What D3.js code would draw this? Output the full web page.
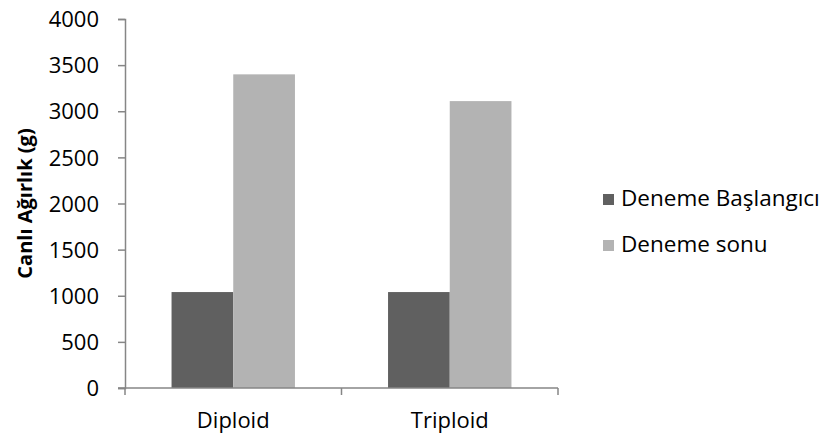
<!DOCTYPE html>
<html>
<head>
<meta charset="utf-8">
<script src="https://cdn.jsdelivr.net/npm/d3@7"></script>
<style>
  html, body { margin: 0; padding: 0; background: #fff; }
  svg { display: block; font-family: "Open Sans", "Noto Sans", sans-serif; }
</style>
</head>
<body>
<svg id="chart" width="828" height="439"></svg>
<script>
const categories = ["Diploid", "Triploid"];
const seriesNames = ["Deneme Başlangıcı", "Deneme sonu"];
const baslangic = [1040, 1040];
const sonu = [3400, 3110];
const yTicks = [0, 500, 1000, 1500, 2000, 2500, 3000, 3500, 4000];
const colors = ["#606060", "#b3b3b3"];
const yTitle = "Canlı Ağırlık (g)";

const series = [baslangic, sonu];
const svg = d3.select("#chart");
const plotLeft = 125, plotRight = 558, plotTop = 19, plotBottom = 388;

const x0 = d3.scaleBand().domain(categories).range([plotLeft, plotRight])
  .paddingInner(0.43).paddingOuter(0.215);
const x1 = d3.scaleBand().domain(seriesNames).range([0, x0.bandwidth()]);
const y = d3.scaleLinear().domain([0, 4000]).range([plotBottom, plotTop]);

const axisColor = "#868686";
const fs = "22px";

// bars
categories.forEach((c, i) => {
  seriesNames.forEach((s, j) => {
    svg.append("rect")
      .attr("x", x0(c) + x1(s))
      .attr("y", y(series[j][i]))
      .attr("width", x1.bandwidth())
      .attr("height", y(0) - y(series[j][i]))
      .attr("fill", colors[j]);
  });
});

// y axis
const yAxis = svg.append("g").attr("transform", `translate(${plotLeft},0)`)
  .call(d3.axisLeft(y).tickValues(yTicks).tickSize(7).tickPadding(19).tickFormat(d3.format("d")));
yAxis.select(".domain").attr("stroke", axisColor).attr("stroke-width", 1.5);
yAxis.selectAll(".tick line").attr("stroke", axisColor).attr("stroke-width", 1.5);
yAxis.selectAll(".tick text").attr("fill", "#000").style("font-size", fs)
  .style("font-family", "'Open Sans', sans-serif").attr("dy", "0.35em");

// x axis
const xAxisG = svg.append("g").attr("transform", `translate(0,${plotBottom})`);
xAxisG.append("line").attr("x1", plotLeft - 7).attr("x2", plotRight)
  .attr("stroke", axisColor).attr("stroke-width", 1.5);
const bounds = [plotLeft, plotLeft + x0.step(), plotRight];
bounds.forEach(b => {
  xAxisG.append("line").attr("x1", b).attr("x2", b).attr("y1", 0).attr("y2", 7)
    .attr("stroke", axisColor).attr("stroke-width", 1.5);
});
categories.forEach(c => {
  xAxisG.append("text")
    .attr("x", x0(c) + x0.bandwidth() / 2)
    .attr("y", 40)
    .attr("text-anchor", "middle")
    .style("font-size", fs)
    .text(c);
});

// y title
svg.append("text")
  .attr("transform", `translate(32,${(plotTop + plotBottom) / 2}) rotate(-90)`)
  .attr("text-anchor", "middle")
  .style("font-size", "20px")
  .style("font-weight", "bold")
  .text(yTitle);

// legend
const legend = svg.append("g");
seriesNames.forEach((s, j) => {
  const base = 206 + j * 46;
  legend.append("rect").attr("x", 603).attr("y", base - 12).attr("width", 11).attr("height", 11)
    .attr("fill", colors[j]);
  legend.append("text").attr("x", 621).attr("y", base)
    .style("font-size", "22.5px").text(s);
});
</script>
</body>
</html>
